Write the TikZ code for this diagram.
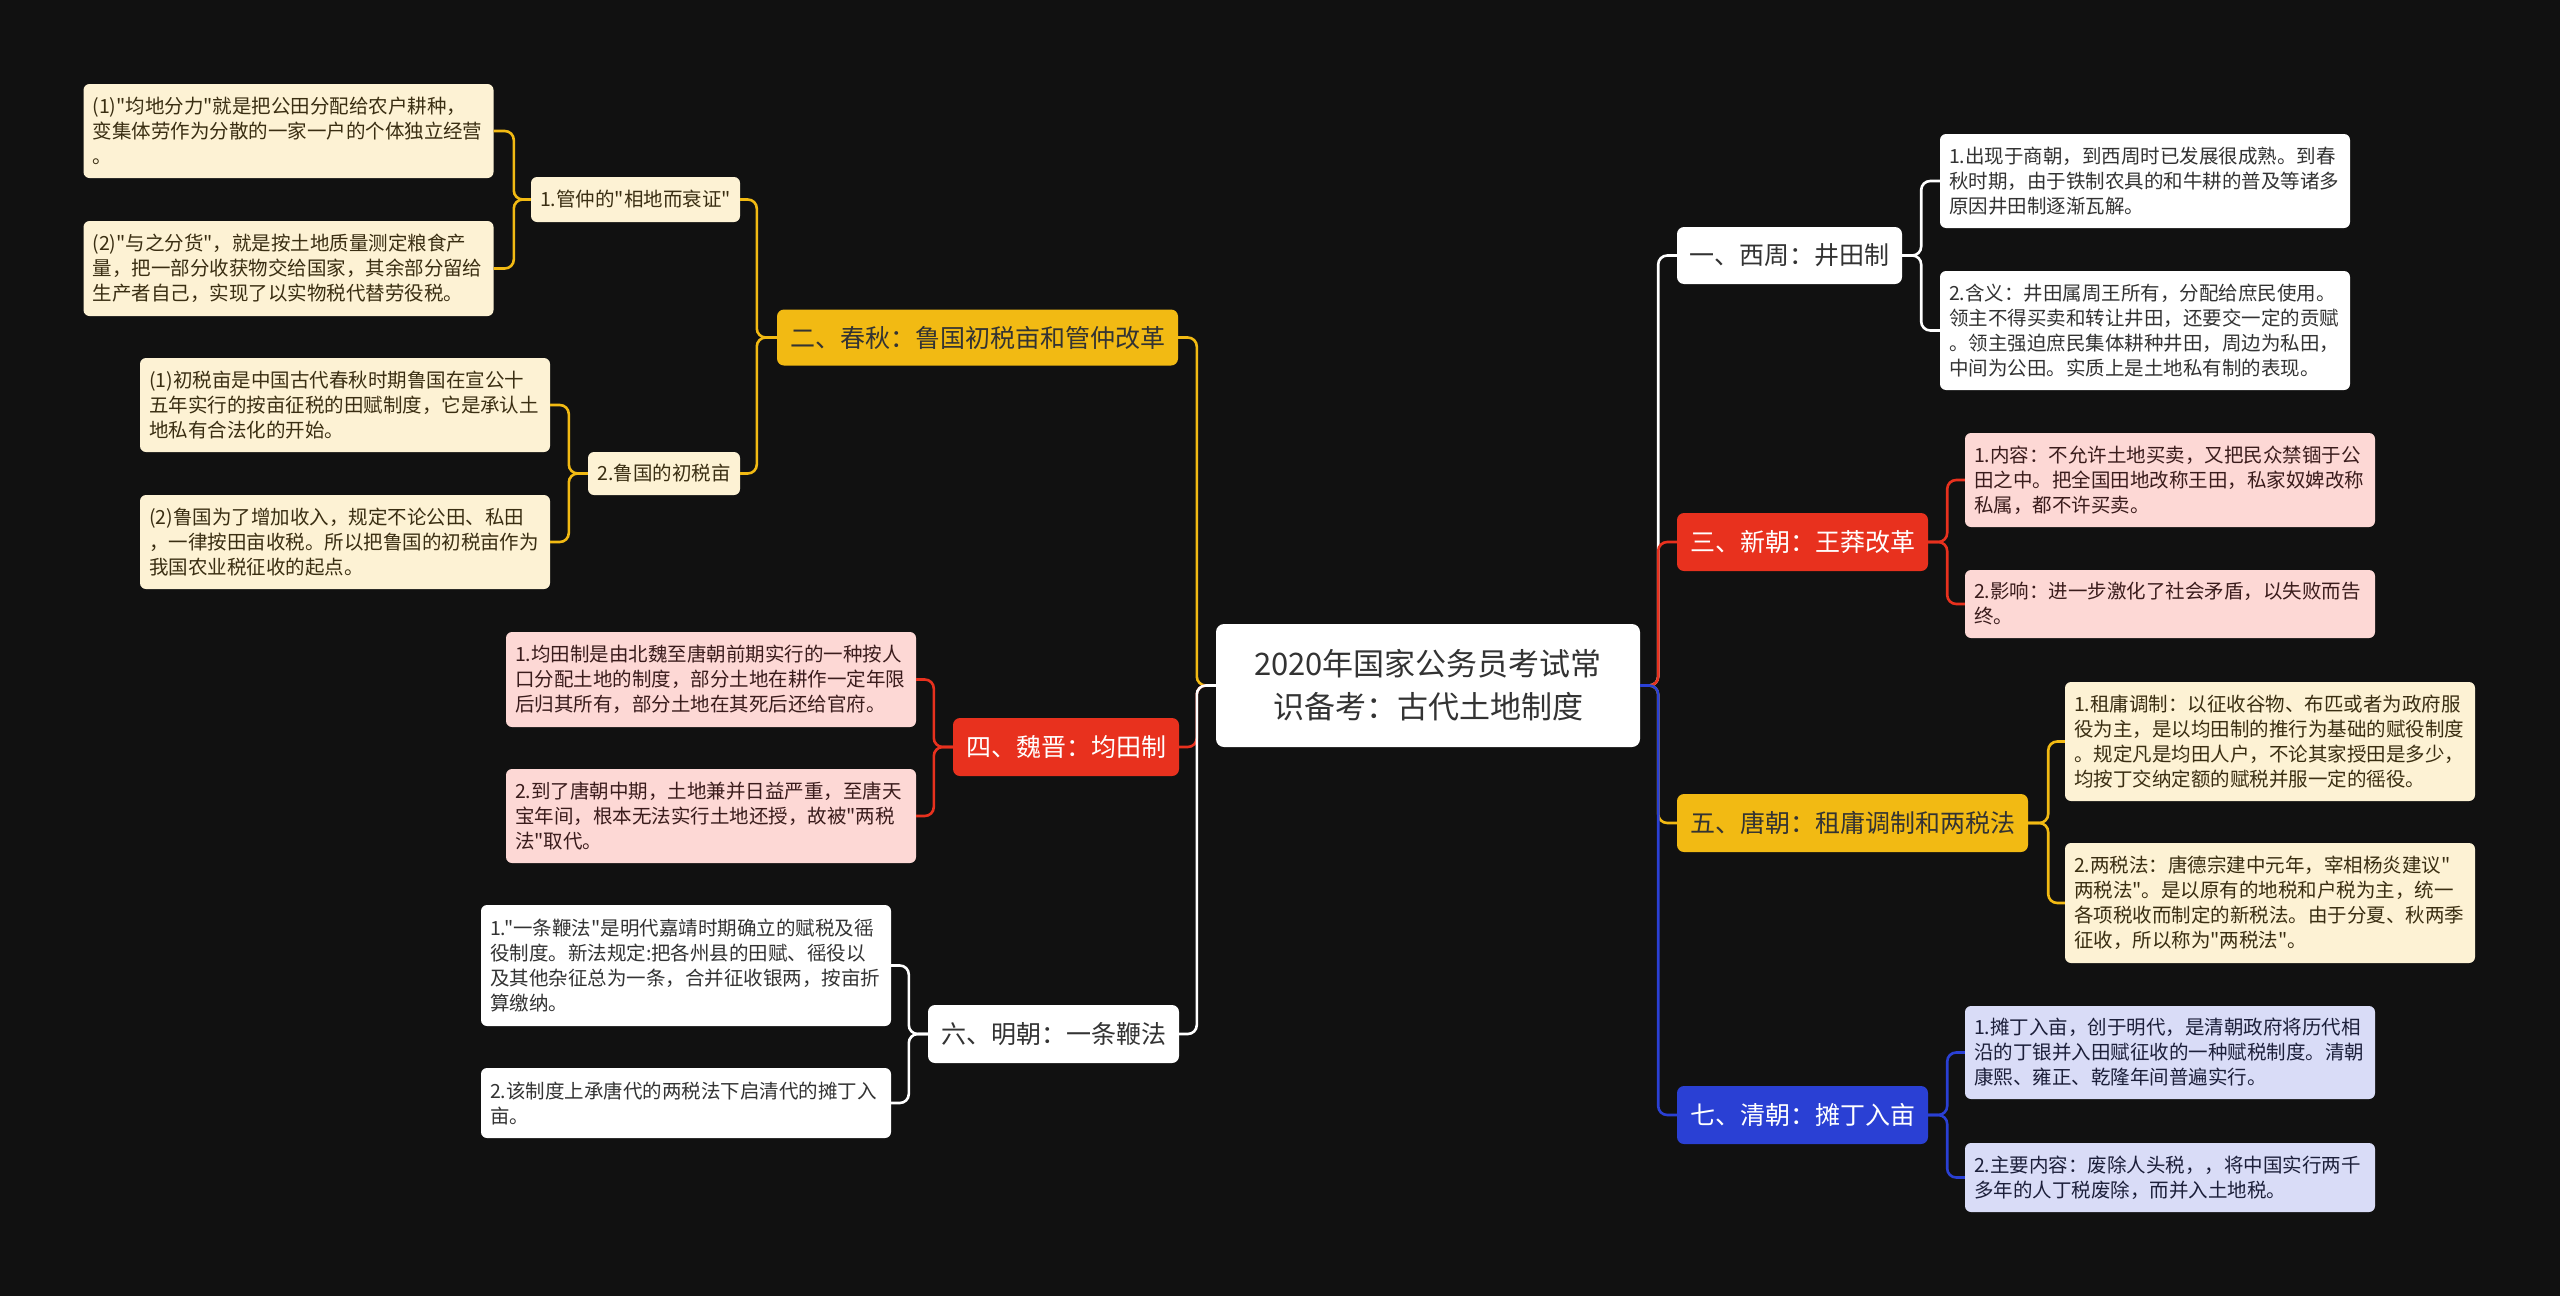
\documentclass[tikz,border=0pt]{standalone}
\usepackage{fontspec}
\setmainfont{Noto Sans CJK SC}[Ligatures=TeXOff]
\definecolor{bg}{HTML}{111111}
\definecolor{yel}{HTML}{F2BA13}
\definecolor{yelleaf}{HTML}{FDF2D4}
\definecolor{yeltxt}{HTML}{3A2E12}
\definecolor{red}{HTML}{E8311E}
\definecolor{redleaf}{HTML}{FDD8D5}
\definecolor{redtxt}{HTML}{3A1C1C}
\definecolor{blu}{HTML}{2A40D4}
\definecolor{bluleaf}{HTML}{D9DCF7}
\definecolor{blutxt}{HTML}{1C1F3A}
\definecolor{whtxt}{HTML}{333333}
\tikzset{
  leafbox/.style={rounded corners=6pt, inner xsep=9pt, inner ysep=0pt, text width=392pt, align=left, font=\fontsize{19.5}{25}\selectfont},
  subbox/.style={rounded corners=6pt, inner sep=0pt, align=center, font=\fontsize{19.5}{25}\selectfont},
  branchbox/.style={rounded corners=7pt, inner sep=0pt, align=center, font=\fontsize{25}{30}\selectfont},
  rootbox/.style={rounded corners=8pt, inner sep=0pt, align=center, fill=white, text=whtxt, font=\fontsize{31}{43}\selectfont},
  conn/.style={line width=2.6pt, rounded corners=9pt},
  Yleaf/.style={leafbox, fill=yelleaf, text=yeltxt},
  Rleaf/.style={leafbox, fill=redleaf, text=redtxt},
  Bleaf/.style={leafbox, fill=bluleaf, text=blutxt},
  Wleaf/.style={leafbox, fill=white, text=whtxt},
}
\begin{document}
\begin{tikzpicture}[x=1pt,y=-1pt]
\useasboundingbox (0,0) rectangle (2560,1296);
\fill[bg] (0,0) rectangle (2560,1296);

% root
\node[rootbox, minimum width=424pt, minimum height=123pt] (root) at (1428,685.5) {2020年国家公务员考试常\\识备考：古代土地制度};

% right branches
\node[branchbox, fill=white, text=whtxt, minimum width=225pt, minimum height=57pt] (b1) at (1789.5,255.5) {一、西周：井田制};
\node[branchbox, fill=red, text=white, minimum width=251pt, minimum height=58pt] (b3) at (1802.5,542) {三、新朝：王莽改革};
\node[branchbox, fill=yel, text=whtxt, minimum width=351pt, minimum height=58pt] (b5) at (1852.5,823) {五、唐朝：租庸调制和两税法};
\node[branchbox, fill=blu, text=white, minimum width=251pt, minimum height=58pt] (b7) at (1802.5,1115) {七、清朝：摊丁入亩};

% left branches
\node[branchbox, fill=yel, text=whtxt, minimum width=401pt, minimum height=56pt] (b2) at (977.5,337.5) {二、春秋：鲁国初税亩和管仲改革};
\node[branchbox, fill=red, text=white, minimum width=226pt, minimum height=58pt] (b4) at (1066,747) {四、魏晋：均田制};
\node[branchbox, fill=white, text=whtxt, minimum width=251pt, minimum height=58pt] (b6) at (1053.5,1034) {六、明朝：一条鞭法};

% sub-branches of b2
\node[subbox, fill=yelleaf, text=yeltxt, minimum width=209pt, minimum height=45pt] (s1) at (635.5,199.5) {1.管仲的"相地而衰证"};
\node[subbox, fill=yelleaf, text=yeltxt, minimum width=152pt, minimum height=43pt] (s2) at (664,473.5) {2.鲁国的初税亩};

% right leaves
\node[Wleaf, minimum height=94pt] (l1a) at (2145,181) {1.出现于商朝，到西周时已发展很成熟。到春\\秋时期，由于铁制农具的和牛耕的普及等诸多\\原因井田制逐渐瓦解。};
\node[Wleaf, minimum height=119pt] (l1b) at (2145,330.5) {2.含义：井田属周王所有，分配给庶民使用。\\领主不得买卖和转让井田，还要交一定的贡赋\\。领主强迫庶民集体耕种井田，周边为私田，\\中间为公田。实质上是土地私有制的表现。};
\node[Rleaf, minimum height=94pt] (l3a) at (2170,480) {1.内容：不允许土地买卖，又把民众禁锢于公\\田之中。把全国田地改称王田，私家奴婢改称\\私属，都不许买卖。};
\node[Rleaf, minimum height=68pt] (l3b) at (2170,604) {2.影响：进一步激化了社会矛盾，以失败而告\\终。};
\node[Yleaf, minimum height=119pt] (l5a) at (2270,741.5) {1.租庸调制：以征收谷物、布匹或者为政府服\\役为主，是以均田制的推行为基础的赋役制度\\。规定凡是均田人户，不论其家授田是多少，\\均按丁交纳定额的赋税并服一定的徭役。};
\node[Yleaf, minimum height=120pt] (l5b) at (2270,903) {2.两税法：唐德宗建中元年，宰相杨炎建议"\\两税法"。是以原有的地税和户税为主，统一\\各项税收而制定的新税法。由于分夏、秋两季\\征收，所以称为"两税法"。};
\node[Bleaf, minimum height=93pt] (l7a) at (2170,1052.5) {1.摊丁入亩，创于明代，是清朝政府将历代相\\沿的丁银并入田赋征收的一种赋税制度。清朝\\康熙、雍正、乾隆年间普遍实行。};
\node[Bleaf, minimum height=69pt] (l7b) at (2170,1177.5) {2.主要内容：废除人头税，，将中国实行两千\\多年的人丁税废除，而并入土地税。};

% left leaves
\node[Yleaf, minimum height=94pt] (g1) at (288.5,131) {(1)"均地分力"就是把公田分配给农户耕种，\\变集体劳作为分散的一家一户的个体独立经营\\。};
\node[Yleaf, minimum height=95pt] (g2) at (288.5,268.5) {(2)"与之分货"，就是按土地质量测定粮食产\\量，把一部分收获物交给国家，其余部分留给\\生产者自己，实现了以实物税代替劳役税。};
\node[Yleaf, minimum height=94pt] (g3) at (345,405) {(1)初税亩是中国古代春秋时期鲁国在宣公十\\五年实行的按亩征税的田赋制度，它是承认土\\地私有合法化的开始。};
\node[Yleaf, minimum height=94pt] (g4) at (345,542) {(2)鲁国为了增加收入，规定不论公田、私田\\，一律按田亩收税。所以把鲁国的初税亩作为\\我国农业税征收的起点。};
\node[Rleaf, minimum height=95pt] (w1) at (711,679.5) {1.均田制是由北魏至唐朝前期实行的一种按人\\口分配土地的制度，部分土地在耕作一定年限\\后归其所有，部分土地在其死后还给官府。};
\node[Rleaf, minimum height=94pt] (w2) at (711,816) {2.到了唐朝中期，土地兼并日益严重，至唐天\\宝年间，根本无法实行土地还授，故被"两税\\法"取代。};
\node[Wleaf, minimum height=121pt] (m1) at (686,965.5) {1."一条鞭法"是明代嘉靖时期确立的赋税及徭\\役制度。新法规定:把各州县的田赋、徭役以\\及其他杂征总为一条，合并征收银两，按亩折\\算缴纳。};
\node[Wleaf, minimum height=70pt] (m2) at (686,1103) {2.该制度上承唐代的两税法下启清代的摊丁入\\亩。};

% root connectors (drawn in branch order)
\draw[conn, white] (root.east) -- ++(18,0) |- (b1.west);
\draw[conn, yel] (root.west) -- ++(-19,0) |- (b2.east);
\draw[conn, red] (root.east) -- ++(18,0) |- (b3.west);
\draw[conn, red] (root.west) -- ++(-19,0) |- (b4.east);
\draw[conn, yel] (root.east) -- ++(18,0) |- (b5.west);
\draw[conn, white] (root.west) -- ++(-19,0) |- (b6.east);
\draw[conn, blu] (root.east) -- ++(18,0) |- (b7.west);

% right sub connectors
\draw[conn, white] (b1.east) -- ++(19,0) |- (l1a.west);
\draw[conn, white] (b1.east) -- ++(19,0) |- (l1b.west);
\draw[conn, red] (b3.east) -- ++(19,0) |- (l3a.west);
\draw[conn, red] (b3.east) -- ++(19,0) |- (l3b.west);
\draw[conn, yel] (b5.east) -- ++(20,0) |- (l5a.west);
\draw[conn, yel] (b5.east) -- ++(20,0) |- (l5b.west);
\draw[conn, blu] (b7.east) -- ++(19,0) |- (l7a.west);
\draw[conn, blu] (b7.east) -- ++(19,0) |- (l7b.west);

% left sub connectors
\draw[conn, yel] (b2.west) -- ++(-20,0) |- (s1.east);
\draw[conn, yel] (b2.west) -- ++(-20,0) |- (s2.east);
\draw[conn, yel] (s1.west) -- ++(-17,0) |- (g1.east);
\draw[conn, yel] (s1.west) -- ++(-17,0) |- (g2.east);
\draw[conn, yel] (s2.west) -- ++(-19,0) |- (g3.east);
\draw[conn, yel] (s2.west) -- ++(-19,0) |- (g4.east);
\draw[conn, red] (b4.west) -- ++(-19,0) |- (w1.east);
\draw[conn, red] (b4.west) -- ++(-19,0) |- (w2.east);
\draw[conn, white] (b6.west) -- ++(-19,0) |- (m1.east);
\draw[conn, white] (b6.west) -- ++(-19,0) |- (m2.east);
\end{tikzpicture}
\end{document}
